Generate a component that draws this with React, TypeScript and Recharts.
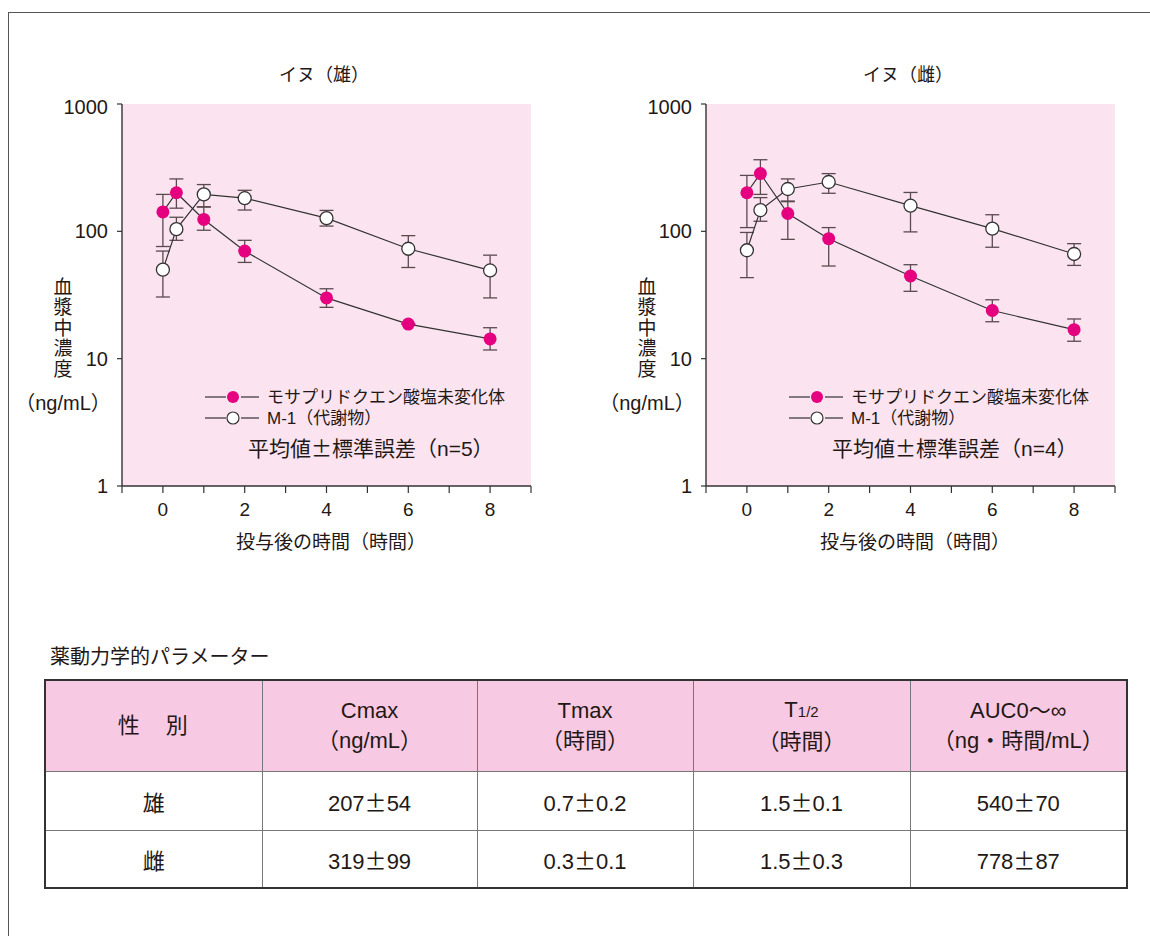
import { LineChart, Line, XAxis, YAxis, CartesianGrid, ErrorBar } from "recharts";

// sampling times (h)
const times = [0, 0.33, 1, 2, 4, 6, 8];
const xTicks = [-1, 0, 1, 2, 3, 4, 5, 6, 7, 8, 9];
const yTicks = [1, 10, 100, 1000];

// イヌ（雄）n=5
const maleParent = [142, 201, 124, 70, 30, 18.7, 14.3];
const maleParentLow = [76, 152, 102, 57, 25.3, 18.7, 11.7];
const maleParentHigh = [195, 258, 156, 85, 35.4, 18.7, 17.5];
const maleM1 = [50, 104, 195, 182, 127, 73, 49.3];
const maleM1Low = [30.5, 85, 155, 147, 110, 52, 30];
const maleM1High = [70, 129, 233, 210, 146, 92.5, 65];

// イヌ（雌）n=4
const femaleParent = [201, 284, 138, 87.5, 44.6, 23.9, 16.9];
const femaleParentLow = [107, 195, 86.5, 53.4, 33.8, 19.5, 13.7];
const femaleParentHigh = [275, 365, 171, 107, 54.7, 29, 20.5];
const femaleM1 = [71, 147, 215, 244, 159, 105, 66.4];
const femaleM1Low = [43.3, 120, 173, 199, 99, 75, 54];
const femaleM1High = [98, 184, 258, 284, 202, 135, 80];

// table
const tableHeaders = [["性　別"], ["Cmax", "（ng/mL）"], ["Tmax", "（時間）"], ["T1/2", "（時間）"], ["AUC0～∞", "（ng・時間/mL）"]];
const tableRows = [
  ["雄", "207±54", "0.7±0.2", "1.5±0.1", "540±70"],
  ["雌", "319±99", "0.3±0.1", "1.5±0.3", "778±87"],
];

const FONT = '"Liberation Sans", Arial, "Noto Sans CJK JP", sans-serif';
const PINK = "#e4007f";
const INK = "#231815";

const buildRows = (
  p: number[], pl: number[], ph: number[],
  m: number[], ml: number[], mh: number[]
) =>
  times.map((t, i) => ({
    t,
    parent: p[i],
    parentErr: [p[i] - pl[i], ph[i] - p[i]],
    m1: m[i],
    m1Err: [m[i] - ml[i], mh[i] - m[i]],
  }));

const maleData = buildRows(maleParent, maleParentLow, maleParentHigh, maleM1, maleM1Low, maleM1High);
const femaleData = buildRows(femaleParent, femaleParentLow, femaleParentHigh, femaleM1, femaleM1Low, femaleM1High);

// full-width ± like the Japanese typesetting
const withPM = (s: string) =>
  s.split("±").map((part, i) => (
    <span key={i}>
      {i > 0 && (
        <span style={{ fontFamily: '"Noto Sans CJK JP"', fontFeatureSettings: '"fwid"' }}>±</span>
      )}
      {part}
    </span>
  ));

const LegendIcon = ({ filled }: { filled: boolean }) => (
  <svg width={54} height={14} style={{ display: "block" }}>
    <line x1={0} y1={7} x2={21} y2={7} stroke="#333" strokeWidth={1.2} />
    <circle cx={28} cy={7} r={6} fill={filled ? PINK : "#fff"} stroke={filled ? PINK : "#333"} strokeWidth={filled ? 0 : 1.2} />
    <line x1={36} y1={7} x2={54} y2={7} stroke="#333" strokeWidth={1.2} />
  </svg>
);

const Panel = ({ x, title, data, n }: { x: number; title: string; data: any[]; n: number }) => {
  const plotLeft = x + 62;
  return (
    <>
      <div style={{ position: "absolute", left: plotLeft + 202 - 100, top: 65, width: 200, textAlign: "center", fontSize: 18, lineHeight: "20px" }}>
        {title}
      </div>
      <div style={{ position: "absolute", left: x, top: 95 }}>
        <LineChart width={480} height={426} data={data} margin={{ top: 9, right: 9, left: 12, bottom: 5 }}>
          <CartesianGrid horizontal={false} vertical={false} fill="#fbe4f0" />
          <XAxis
            type="number"
            dataKey="t"
            domain={[-1, 9]}
            ticks={xTicks}
            interval={0}
            tickFormatter={(v: number) => (v >= 0 && v % 2 === 0 ? String(v) : "")}
            axisLine={{ stroke: "#333", strokeWidth: 1.4 }}
            tickLine={{ stroke: "#333", strokeWidth: 1.2 }}
            tickSize={7}
            tickMargin={10}
            tick={{ fill: INK, fontSize: 19 }}
            height={30}
          />
          <YAxis
            type="number"
            scale="log"
            domain={[1, 1000]}
            ticks={yTicks}
            allowDataOverflow
            width={50}
            axisLine={{ stroke: "#333", strokeWidth: 1.4 }}
            tickLine={{ stroke: "#333", strokeWidth: 1.2 }}
            tickSize={5}
            tickMargin={9}
            tick={{ fill: INK, fontSize: 20 }}
          />
          <Line
            dataKey="parent"
            stroke="#333"
            strokeWidth={1.2}
            isAnimationActive={false}
            activeDot={false}
            dot={{ r: 6.5, fill: PINK, stroke: PINK, strokeWidth: 0 }}
          >
            <ErrorBar dataKey="parentErr" direction="y" width={7} stroke="#5a4a4f" strokeWidth={1.3} />
          </Line>
          <Line
            dataKey="m1"
            stroke="#333"
            strokeWidth={1.2}
            isAnimationActive={false}
            activeDot={false}
            dot={{ r: 6.5, fill: "#fff", stroke: "#333", strokeWidth: 1.3 }}
          >
            <ErrorBar dataKey="m1Err" direction="y" width={7} stroke="#5a4a4f" strokeWidth={1.3} />
          </Line>
        </LineChart>
      </div>
      {/* y-axis title, stacked vertically */}
      <div style={{ position: "absolute", left: plotLeft - 59 - 15, top: 277.5, width: 30, textAlign: "center", fontSize: 19, lineHeight: "20.5px" }}>
        {"血漿中濃度".split("").map((c) => (
          <div key={c}>{c}</div>
        ))}
      </div>
      <div style={{ position: "absolute", left: plotLeft - 59 - 60, top: 392, width: 120, textAlign: "center", fontSize: 20, lineHeight: "22px" }}>
        （ng/mL）
      </div>
      <div style={{ position: "absolute", left: plotLeft + 209 - 150, top: 532, width: 300, textAlign: "center", fontSize: 19, lineHeight: "22px" }}>
        投与後の時間（時間）
      </div>
      {/* legend */}
      <div style={{ position: "absolute", left: plotLeft + 83, top: 386.5, fontSize: 17, lineHeight: "21px" }}>
        <div style={{ display: "flex", alignItems: "center", gap: 8 }}>
          <LegendIcon filled />
          <span>モサプリドクエン酸塩未変化体</span>
        </div>
        <div style={{ display: "flex", alignItems: "center", gap: 8 }}>
          <LegendIcon filled={false} />
          <span>M-1（代謝物）</span>
        </div>
      </div>
      <div style={{ position: "absolute", left: plotLeft + 126, top: 435, fontSize: 21, lineHeight: "24px", whiteSpace: "nowrap" }}>
        {withPM(`平均値±標準誤差（n=${n}）`)}
      </div>
    </>
  );
};

const renderHeader = (lines: string[]) =>
  lines.map((l, i) => (
    <div key={i}>
      {l === "T1/2" ? (
        <>
          T<span style={{ fontSize: 15 }}>1/2</span>
        </>
      ) : (
        l
      )}
    </div>
  ));

const App = () => {
  const colWidths = [217, 215, 216, 217, 217];
  const inner = "1px solid #777";
  return (
    <div style={{ position: "absolute", left: 0, top: 0, width: 1150, height: 936, background: "#fff", overflow: "hidden", fontFamily: FONT, color: INK }}>
      <div style={{ position: "absolute", left: 8, top: 12, width: 1160, height: 940, borderTop: "1.5px solid #555", borderLeft: "1.5px solid #555" }} />
      <Panel x={60} title="イヌ（雄）" data={maleData} n={5} />
      <Panel x={644} title="イヌ（雌）" data={femaleData} n={4} />

      <div style={{ position: "absolute", left: 50, top: 646, fontSize: 20, lineHeight: "22px" }}>薬動力学的パラメーター</div>
      <table
        style={{
          position: "absolute",
          left: 44,
          top: 679,
          width: 1082,
          borderCollapse: "collapse",
          border: "2px solid #333",
          tableLayout: "fixed",
          fontSize: 22,
        }}
      >
        <colgroup>
          {colWidths.map((w, i) => (
            <col key={i} style={{ width: w }} />
          ))}
        </colgroup>
        <tbody>
          <tr style={{ height: 91, background: "#f8c9e2" }}>
            {tableHeaders.map((h, i) => (
              <td key={i} style={{ borderLeft: i ? inner : undefined, borderBottom: inner, textAlign: "center", lineHeight: "30px", padding: 0, fontSize: 22, letterSpacing: i === 0 ? 2 : 0 }}>
                {renderHeader(h)}
              </td>
            ))}
          </tr>
          {tableRows.map((r, ri) => (
            <tr key={ri} style={{ height: ri === 0 ? 59 : 58 }}>
              {r.map((c, ci) => (
                <td key={ci} style={{ borderLeft: ci ? inner : undefined, borderBottom: ri === 0 ? inner : undefined, textAlign: "center", padding: 0 }}>
                  {withPM(c)}
                </td>
              ))}
            </tr>
          ))}
        </tbody>
      </table>
    </div>
  );
};

export default App;
